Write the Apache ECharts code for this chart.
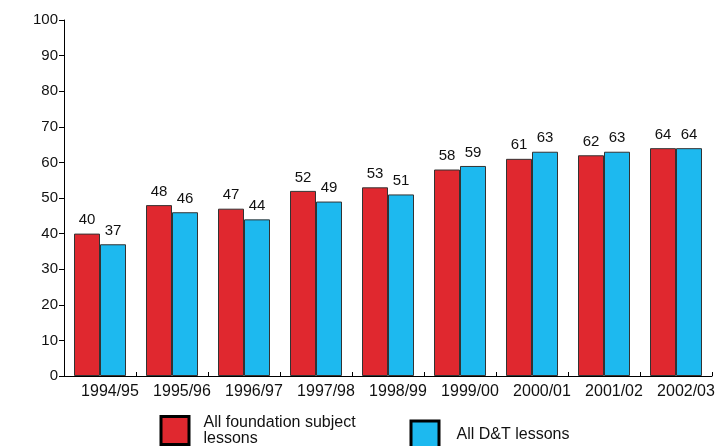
<!DOCTYPE html>
<html>
<head>
<meta charset="utf-8">
<script src="https://cdn.jsdelivr.net/npm/echarts@6/dist/echarts.min.js"></script>
<style>
  html, body { margin: 0; padding: 0; background: #fff; }
  #chart { width: 718px; height: 446px; }
</style>
</head>
<body>
<div id="chart"></div>
<script>
// School years on the horizontal axis
const years = ['1994/95', '1995/96', '1996/97', '1997/98', '1998/99', '1999/00', '2000/01', '2001/02', '2002/03'];
// Percentages per year
const foundationLessons = [40, 48, 47, 52, 53, 58, 61, 62, 64];
const dtLessons = [37, 46, 44, 49, 51, 59, 63, 63, 64];
// Series names
const foundationName = 'All foundation subject lessons';
const dtName = 'All D&T lessons';

const FONT = 'Liberation Sans, Arial, sans-serif';
const RED = '#E0282F';
const BLUE = '#1DB9EF';

const chart = echarts.init(document.getElementById('chart'), null, { renderer: 'canvas' });

function legendFor(name, left, top, textPad, formatter) {
  const lg = {
    data: [name],
    left: left,
    top: top,
    padding: 0,
    orient: 'horizontal',
    icon: 'rect',
    itemWidth: 28,
    itemHeight: 28,
    selectedMode: false,
    textStyle: {
      fontFamily: FONT, fontSize: 16, color: '#111', lineHeight: 16,
      padding: textPad
    },
    itemStyle: { borderColor: '#000', borderWidth: 3 }
  };
  if (formatter) lg.formatter = formatter;
  return lg;
}

const barLabel = {
  show: true,
  position: 'top',
  distance: 6,
  fontFamily: FONT,
  fontSize: 15,
  color: '#111'
};

chart.setOption({
  animation: false,
  backgroundColor: '#fff',
  grid: { left: 64, right: 6, top: 20, bottom: 70 },
  legend: [
    legendFor(foundationName, 159.5, 411.5, [6, 0, 0, 9.5], () => 'All foundation subject\nlessons'),
    legendFor(dtName, 409.5, 419.5, [0, 0, 0, 12.5])
  ],
  xAxis: {
    type: 'category',
    data: years,
    boundaryGap: true,
    axisLine: { lineStyle: { color: '#000', width: 1 } },
    axisTick: { show: true, inside: true, interval: 0, alignWithLabel: false, length: 4, lineStyle: { color: '#000' } },
    axisLabel: {
      fontFamily: FONT, fontSize: 16, color: '#111', margin: 8,
      interval: 0, hideOverlap: false, padding: [0, 0, 0, 20]
    }
  },
  yAxis: {
    type: 'value',
    min: 0,
    max: 100,
    interval: 10,
    axisLine: { show: true, lineStyle: { color: '#000', width: 1 } },
    axisTick: { show: true, length: 5, lineStyle: { color: '#000' } },
    axisLabel: { fontFamily: FONT, fontSize: 15, color: '#111', margin: 6 },
    splitLine: { show: false }
  },
  series: [
    {
      name: foundationName,
      type: 'bar',
      data: foundationLessons,
      barWidth: 26,
      barGap: '0%',
      itemStyle: { color: RED, borderColor: '#333', borderWidth: 1 },
      label: barLabel
    },
    {
      name: dtName,
      type: 'bar',
      data: dtLessons,
      barWidth: 26,
      barGap: '0%',
      itemStyle: { color: BLUE, borderColor: '#333', borderWidth: 1 },
      label: barLabel
    }
  ]
});
</script>
</body>
</html>
